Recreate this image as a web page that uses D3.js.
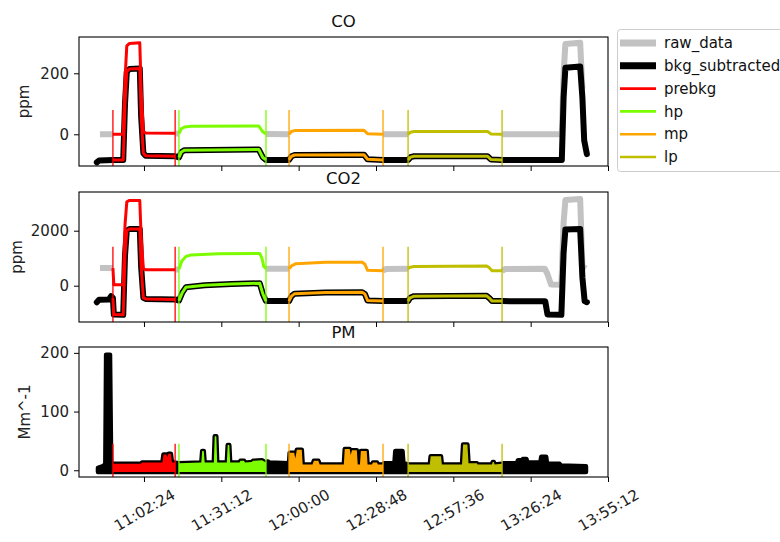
<!DOCTYPE html>
<html>
<head>
<meta charset="utf-8">
<script src="https://cdn.jsdelivr.net/npm/d3@7"></script>
<style>
  body { margin: 0; background: #fff; }
  svg { font-family: "DejaVu Sans", sans-serif; }
</style>
</head>
<body>
<div id="chart"></div>
<script>
const parse = d3.timeParse("%H:%M:%S");

const xDomain = ["10:38:12", "13:55:12"];
const xTicks = ["11:02:24", "11:31:12", "12:00:00", "12:28:48", "12:57:36", "13:26:24", "13:55:12"];

// sampling windows
const winNames = ["prebkg", "hp", "mp", "lp"];
const winStarts = ["10:50:50", "11:15:25", "11:56:25", "12:40:45"];
const winEnds = ["11:14:00", "11:47:50", "12:31:25", "13:15:45"];

const coDomain = [-104, 319];
const coTicks = [0, 200];
const coMark = 80;
const coRaw = [
  ["10:46:00", 0], ["10:50:50", 0], ["10:54:40", 0], ["10:55:20", 180], ["10:56:00", 290], ["10:57:00", 298],
  ["11:00:50", 300], ["11:01:20", 150], ["11:02:10", 10], ["11:03:00", 4], ["11:14:00", 3], ["11:15:25", 2],
  ["11:16:20", 18], ["11:17:30", 24], ["11:20:00", 26], ["11:45:10", 27], ["11:46:40", 8], ["11:47:50", 1],
  ["11:56:25", 0], ["11:57:20", 9], ["11:58:30", 12], ["12:24:20", 13], ["12:25:40", 2], ["12:31:25", 0],
  ["12:40:45", 0], ["12:41:40", 7], ["12:43:00", 9], ["13:10:20", 9], ["13:11:40", 1], ["13:15:45", 0],
  ["13:38:00", 0], ["13:38:40", 200], ["13:39:20", 296], ["13:44:50", 300], ["13:45:40", 150]
];
const coBkg = [
  ["10:44:50", -92], ["10:45:40", -86], ["10:50:50", -84], ["10:54:40", -84], ["10:55:20", 100], ["10:56:00", 205],
  ["10:57:00", 214], ["11:00:50", 216], ["11:01:20", 60], ["11:02:10", -62], ["11:03:00", -70], ["11:14:00", -72],
  ["11:15:25", -76], ["11:16:20", -58], ["11:17:30", -52], ["11:45:10", -50], ["11:46:40", -76], ["11:47:50", -84],
  ["11:56:25", -84], ["11:57:20", -72], ["11:58:30", -68], ["12:24:20", -67], ["12:25:40", -82], ["12:31:25", -84],
  ["12:40:45", -84], ["12:41:40", -75], ["12:43:00", -72], ["13:10:20", -72], ["13:11:40", -83], ["13:15:45", -84],
  ["13:38:00", -84], ["13:38:40", 120], ["13:39:20", 218], ["13:44:50", 222], ["13:45:40", 120], ["13:46:20", -20],
  ["13:47:20", -65]
];

const co2Domain = [-1320, 3407];
const co2Ticks = [0, 2000];
const co2Mark = 1420;
const co2Raw = [
  ["10:46:00", 640], ["10:50:50", 640], ["10:51:10", 30], ["10:54:40", 30], ["10:55:20", 2200], ["10:56:00", 3050],
  ["10:57:00", 3100], ["11:00:50", 3100], ["11:01:20", 1800], ["11:02:10", 620], ["11:03:00", 580], ["11:14:00", 580],
  ["11:15:25", 600], ["11:16:30", 900], ["11:18:00", 1060], ["11:20:00", 1120], ["11:30:00", 1160], ["11:45:30", 1170],
  ["11:46:20", 1000], ["11:47:00", 700], ["11:47:50", 620], ["11:56:25", 620], ["11:57:20", 720], ["11:59:00", 800],
  ["12:10:00", 850], ["12:23:40", 850], ["12:24:40", 780], ["12:25:40", 560], ["12:31:25", 540], ["12:32:30", 610],
  ["12:40:45", 620], ["12:41:30", 670], ["12:43:00", 700], ["13:10:00", 720], ["13:11:00", 650], ["13:12:00", 540],
  ["13:15:45", 540], ["13:17:00", 610], ["13:31:40", 620], ["13:32:40", 420], ["13:34:00", 40], ["13:37:50", 30],
  ["13:38:40", 2300], ["13:39:20", 3120], ["13:44:50", 3150], ["13:45:40", 700], ["13:47:00", 620]
];
const co2Bkg = [
  ["10:44:50", -600], ["10:45:40", -510], ["10:49:20", -500], ["10:50:10", -380], ["10:50:50", -450], ["10:51:10", -1050],
  ["10:54:40", -1060], ["10:55:20", 1100], ["10:56:00", 2000], ["10:57:00", 2060], ["11:00:50", 2060], ["11:01:20", 700],
  ["11:02:10", -440], ["11:03:00", -480], ["11:14:00", -500], ["11:15:25", -540], ["11:16:40", -250], ["11:18:00", -60],
  ["11:25:00", 20], ["11:35:00", 60], ["11:45:30", 90], ["11:46:40", -300], ["11:47:50", -560], ["11:56:25", -560],
  ["11:57:20", -380], ["11:58:30", -290], ["12:10:00", -250], ["12:23:40", -240], ["12:24:40", -300], ["12:25:40", -540],
  ["12:31:25", -560], ["12:40:45", -560], ["12:41:30", -440], ["12:43:00", -380], ["13:10:00", -370], ["13:11:00", -450],
  ["13:12:00", -560], ["13:15:45", -560], ["13:31:50", -570], ["13:32:40", -1050], ["13:37:50", -1060], ["13:38:40", 1200],
  ["13:39:20", 2040], ["13:44:50", 2060], ["13:45:40", 300], ["13:46:30", -560], ["13:47:20", -600]
];

const pmDomain = [-11.5, 210];
const pmTicks = [0, 100, 200];
const pmMark = 45;
const pmFloor = -3;
const pm = [
  ["10:45:16", 4], ["10:47:08", 7], ["10:48:00", 10], ["10:48:18", 197], ["10:49:45", 197], ["10:50:10", 12], ["10:50:50", 11],
  ["11:01:15", 11], ["11:01:40", 13], ["11:09:15", 13], ["11:09:40", 27], ["11:10:45", 27], ["11:11:05", 22], ["11:11:30", 28],
  ["11:12:25", 28], ["11:12:50", 13], ["11:14:00", 13],
  ["11:15:25", 12], ["11:23:45", 13], ["11:24:05", 33], ["11:24:40", 33], ["11:25:00", 13], ["11:28:25", 13], ["11:28:45", 58],
  ["11:29:20", 58], ["11:29:40", 13], ["11:33:15", 13], ["11:33:35", 43], ["11:34:10", 43], ["11:34:30", 13], ["11:38:00", 13],
  ["11:38:20", 16], ["11:39:40", 16], ["11:40:00", 13], ["11:42:30", 14], ["11:43:00", 16], ["11:46:20", 17], ["11:47:50", 13],
  ["11:48:30", 15], ["11:49:10", 13], ["11:56:25", 12],
  ["11:56:40", 30], ["11:58:20", 30], ["11:58:45", 20], ["11:59:20", 35], ["12:01:10", 35], ["12:01:30", 10], ["12:05:10", 10],
  ["12:05:40", 16], ["12:07:20", 16], ["12:07:50", 10], ["12:16:50", 10], ["12:17:10", 36], ["12:19:00", 36], ["12:19:25", 26],
  ["12:19:50", 34], ["12:21:40", 34], ["12:22:00", 10], ["12:22:50", 10], ["12:23:10", 33], ["12:25:20", 33], ["12:25:40", 10],
  ["12:27:20", 10], ["12:27:40", 13], ["12:29:10", 13], ["12:29:30", 10], ["12:31:25", 10],
  ["12:31:45", 12], ["12:35:40", 12], ["12:36:00", 33], ["12:38:40", 33], ["12:39:00", 12], ["12:40:45", 10],
  ["12:48:50", 10], ["12:49:10", 24], ["12:53:00", 24], ["12:53:20", 10], ["13:00:50", 10], ["13:01:15", 44], ["13:02:50", 44],
  ["13:03:15", 12], ["13:06:20", 12], ["13:06:40", 10], ["13:12:00", 10], ["13:12:15", 14], ["13:12:40", 14], ["13:13:00", 10],
  ["13:15:45", 11],
  ["13:16:30", 12], ["13:21:20", 12], ["13:21:40", 17], ["13:22:40", 17], ["13:23:00", 14], ["13:23:30", 19], ["13:24:50", 19],
  ["13:25:10", 13], ["13:30:00", 13], ["13:30:20", 23], ["13:32:10", 23], ["13:32:30", 11], ["13:37:10", 11], ["13:37:40", 8],
  ["13:47:00", 7]
];

const legendNames = ["raw_data", "bkg_subtracted", ...winNames];

// styles
const winColors = ["#ff0000", "#7cfc00", "#ffa500", "#bfbf00"];
const rawColor = "#c2c2c2";

let width = 780, height = 542,
  left = 79, right = 608;

const svg = d3.select("#chart")
  .append("svg")
  .attr("width", width)
  .attr("height", height);

const x = d3.scaleTime()
  .domain(xDomain.map(parse))
  .range([left, right]);

const toPts = arr => arr.map(d => ({ t: parse(d[0]), v: d[1] }));
const starts = winStarts.map(parse), ends = winEnds.map(parse);
const inside = t => starts.some((s, i) => t > s && t < ends[i]);

const panels = [
  { title: "CO", label: "ppm", raw: coRaw, bkg: coBkg, domain: coDomain, ticks: coTicks, mark: coMark,
    top: 37, bottom: 166, titleY: 27, labelX: 29 },
  { title: "CO2", label: "ppm", raw: co2Raw, bkg: co2Bkg, domain: co2Domain, ticks: co2Ticks, mark: co2Mark,
    top: 192, bottom: 322, titleY: 184, labelX: 22 },
  { title: "PM", label: "Mm^-1", pm: pm, domain: pmDomain, ticks: pmTicks, mark: pmMark,
    top: 347, bottom: 477, titleY: 338, labelX: 30 }
];

panels.forEach((p, i) => {
  let y = d3.scaleLinear()
    .domain(p.domain)
    .range([p.bottom, p.top]);

  let g = svg.append("g");

  g.append("clipPath")
    .attr("id", "clip" + i)
    .append("rect")
    .attr("x", left).attr("y", p.top)
    .attr("width", right - left).attr("height", p.bottom - p.top);

  let plot = g.append("g").attr("clip-path", `url(#clip${i})`);

  if (p.pm) {
    // PM trace is noisy, so draw it as a band with a black rim
    let pts = toPts(p.pm);
    let area = d3.area()
      .x(d => x(d.t))
      .y0(y(pmFloor))
      .y1(d => y(d.v));

    plot.append("path")
      .datum(pts)
      .attr("d", area)
      .attr("fill", "#000")
      .attr("stroke", "#000")
      .attr("stroke-width", 4.5)
      .attr("stroke-linejoin", "round");

    starts.forEach((s, k) => {
      plot.append("path")
        .datum(pts.filter(d => d.t >= s && d.t <= ends[k]))
        .attr("d", area)
        .attr("fill", winColors[k]);
    });
  } else {
    let raw = toPts(p.raw), bkg = toPts(p.bkg);
    let line = d3.line().x(d => x(d.t)).y(d => y(d.v));
    let rawLine = d3.line().x(d => x(d.t)).y(d => y(d.v)).defined(d => !inside(d.t));

    plot.append("path")
      .datum(raw)
      .attr("d", rawLine)
      .attr("fill", "none")
      .attr("stroke", rawColor)
      .attr("stroke-width", 6)
      .attr("stroke-linejoin", "round");

    plot.append("path")
      .datum(bkg)
      .attr("d", line)
      .attr("fill", "none")
      .attr("stroke", "#000")
      .attr("stroke-width", 6)
      .attr("stroke-linejoin", "round")
      .attr("stroke-linecap", "round");

    starts.forEach((s, k) => {
      for (let series of [raw, bkg]) {
        plot.append("path")
          .datum(series.filter(d => d.t >= s && d.t <= ends[k]))
          .attr("d", line)
          .attr("fill", "none")
          .attr("stroke", winColors[k])
          .attr("stroke-width", 3)
          .attr("stroke-linejoin", "round");
      }
    });
  }

  // window start / end markers
  starts.forEach((s, k) => {
    for (let t of [s, ends[k]]) {
      plot.append("line")
        .attr("x1", x(t)).attr("x2", x(t))
        .attr("y1", y(p.domain[0])).attr("y2", y(p.mark))
        .attr("stroke", winColors[k])
        .attr("stroke-width", 1.3);
    }
  });

  // frame
  g.append("rect")
    .attr("x", left).attr("y", p.top)
    .attr("width", right - left).attr("height", p.bottom - p.top)
    .attr("fill", "none")
    .attr("stroke", "#000")
    .attr("stroke-width", 1.1);

  g.append("g")
    .attr("transform", `translate(${left},0)`)
    .call(d3.axisLeft(y).tickValues(p.ticks).tickSize(5).tickPadding(5).tickFormat(d3.format("d")))
    .call(a => a.select(".domain").remove())
    .selectAll("text")
    .attr("font-size", 15)
    .attr("font-family", "DejaVu Sans")
    .attr("fill", "#222");

  let xAxis = g.append("g")
    .attr("transform", `translate(0,${p.bottom})`)
    .call(d3.axisBottom(x)
      .tickValues(xTicks.map(parse))
      .tickSize(5)
      .tickFormat(i === 2 ? d3.timeFormat("%H:%M:%S") : ""))
    .call(a => a.select(".domain").remove());

  xAxis.selectAll("text")
    .attr("y", 0)
    .attr("dy", "0.35em")
    .attr("text-anchor", "middle")
    .attr("transform", "translate(0,33) rotate(-30)")
    .attr("font-size", 15)
    .attr("font-family", "DejaVu Sans")
    .attr("fill", "#222");

  g.append("text")
    .attr("x", (left + right) / 2)
    .attr("y", p.titleY)
    .attr("text-anchor", "middle")
    .attr("font-size", 16.5)
    .attr("fill", "#111")
    .text(p.title);

  g.append("text")
    .attr("transform", `translate(${p.labelX},${(p.top + p.bottom) / 2}) rotate(-90)`)
    .attr("text-anchor", "middle")
    .attr("font-size", 15)
    .attr("fill", "#222")
    .text(p.label);
});

// legend outside the top panel
let legend = svg.append("g");

legend.append("rect")
  .attr("x", 617.5).attr("y", 29.5)
  .attr("width", 200).attr("height", 142)
  .attr("rx", 3)
  .attr("fill", "#fff")
  .attr("stroke", "#cccccc");

let legendY = d3.scalePoint()
  .domain(legendNames)
  .range([43, 157]);

legendNames.forEach((name, k) => {
  let color = k === 0 ? rawColor : k === 1 ? "#000" : winColors[k - 2];
  legend.append("line")
    .attr("x1", 620).attr("x2", 656)
    .attr("y1", legendY(name)).attr("y2", legendY(name))
    .attr("stroke", color)
    .attr("stroke-width", k < 2 ? 7 : 2.6);

  legend.append("text")
    .attr("x", 664)
    .attr("y", legendY(name))
    .attr("dy", "0.35em")
    .attr("font-size", 15)
    .attr("fill", "#111")
    .text(name);
});
</script>
</body>
</html>
